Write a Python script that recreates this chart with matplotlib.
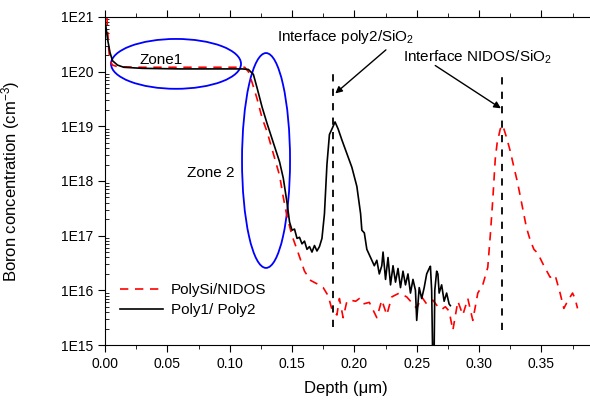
import numpy as np
import matplotlib
matplotlib.use("Agg")
import matplotlib.pyplot as plt
from matplotlib.patches import Ellipse
from matplotlib.ticker import MultipleLocator, LogLocator, FuncFormatter, NullFormatter

plt.rcParams['font.family'] = ['Liberation Sans', 'DejaVu Sans']
plt.rcParams['mathtext.default'] = 'regular'

# --- data read from the SIMS profile (depth in um, log10 of B concentration in cm^-3) ---
depth_nidos = [0.0015, 0.003, 0.004, 0.006, 0.010, 0.03, 0.06, 0.09, 0.112, 0.115,
               0.118, 0.122, 0.126, 0.130, 0.135, 0.140, 0.143, 0.146, 0.150, 0.155,
               0.160, 0.165, 0.170, 0.175, 0.179, 0.182, 0.186, 0.188, 0.191, 0.194,
               0.197, 0.201, 0.204, 0.207, 0.212, 0.218, 0.222, 0.226, 0.230, 0.236,
               0.242, 0.247, 0.250, 0.254, 0.258, 0.263, 0.267, 0.270, 0.273, 0.276,
               0.279, 0.283, 0.287, 0.291, 0.295, 0.299, 0.303, 0.307, 0.309, 0.311,
               0.313, 0.3145, 0.317, 0.319, 0.322, 0.325, 0.328, 0.331, 0.335, 0.338,
               0.341, 0.344, 0.347, 0.352, 0.357, 0.361, 0.365, 0.368, 0.371, 0.375,
               0.377, 0.379]
log_conc_nidos = [21.0, 20.4, 20.2, 20.12, 20.09, 20.08, 20.08, 20.08, 20.08, 20.0,
                  19.8, 19.5, 19.15, 18.9, 18.5, 18.1, 17.7, 17.35, 17.0, 16.68,
                  16.35, 16.18, 16.12, 16.05, 15.9, 15.65, 15.55, 15.85, 15.5, 15.8,
                  15.82, 15.8, 15.85, 15.75, 15.78, 15.5, 15.82, 15.55, 15.88, 15.95,
                  15.88, 15.75, 15.67, 15.88, 15.75, 15.82, 15.7, 15.65, 15.7, 15.62,
                  15.27, 15.8, 15.55, 15.85, 15.45, 15.95, 16.1, 16.42, 17.0, 17.65,
                  18.4, 18.69, 18.95, 19.02, 18.8, 18.55, 18.25, 17.96, 17.5, 17.15,
                  16.92, 16.75, 16.68, 16.45, 16.24, 16.28, 15.95, 15.67, 15.8, 15.95,
                  15.85, 15.67]

depth_poly = [0.0, 0.002, 0.004, 0.006, 0.010, 0.015, 0.03, 0.06, 0.09, 0.11,
              0.115, 0.119, 0.122, 0.126, 0.130, 0.135, 0.140, 0.143, 0.146, 0.148,
              0.150, 0.152, 0.154, 0.156, 0.158, 0.160, 0.162, 0.164, 0.166, 0.168,
              0.170, 0.172, 0.174, 0.176, 0.178, 0.180, 0.182, 0.1845, 0.187, 0.190,
              0.194, 0.198, 0.202, 0.205, 0.206, 0.208, 0.210, 0.213, 0.216, 0.218,
              0.220, 0.222, 0.223, 0.225, 0.227, 0.229, 0.231, 0.233, 0.235, 0.237,
              0.239, 0.241, 0.243, 0.245, 0.247, 0.249, 0.250, 0.252, 0.254, 0.256,
              0.258, 0.260, 0.261, 0.262, 0.263, 0.2638, 0.2645, 0.266, 0.267, 0.268,
              0.270, 0.272, 0.274, 0.276, 0.277]
log_conc_poly = [20.95, 20.6, 20.35, 20.2, 20.12, 20.08, 20.06, 20.05, 20.05, 20.05,
                 20.04, 19.95, 19.7, 19.35, 19.05, 18.7, 18.35, 18.05, 17.6, 17.25,
                 17.1, 17.12, 16.95, 16.97, 16.85, 16.9, 16.75, 16.8, 16.7, 16.82,
                 16.72, 16.8, 16.95, 17.4, 18.3, 18.85, 18.95, 19.08, 18.95, 18.75,
                 18.5, 18.25, 17.9, 17.4, 17.1, 17.05, 16.75, 16.6, 16.45, 16.55,
                 16.3, 16.45, 16.7, 16.2, 16.6, 16.1, 16.45, 16.15, 16.4, 16.05,
                 16.35, 16.1, 16.3, 15.95, 16.2, 16.0, 15.45, 16.05, 15.85, 16.05,
                 16.3, 16.4, 16.44, 16.0, 14.5, 14.5, 16.0, 16.35, 16.3, 15.95,
                 16.1, 15.8, 15.95, 15.75, 15.72]

interface_depths = [0.183, 0.3186]
y_tick_exp = [15, 16, 17, 18, 19, 20, 21]

fig = plt.figure(figsize=(5.9, 4.03), dpi=100)
ax = fig.add_axes([0.178, 0.1439, 0.822, 0.814])

ax.plot(depth_nidos, 10 ** np.array(log_conc_nidos), color='red', linestyle=(0, (5, 4)),
        linewidth=1.2, label='PolySi/NIDOS')
ax.plot(depth_poly, 10 ** np.array(log_conc_poly), color='black', linewidth=1.2,
        label='Poly1/ Poly2')

# interface markers
for d, top, bot in zip(interface_depths, [1.07e20, 1.07e20], [2.1e15, 1.9e15]):
    ax.plot([d, d], [bot, top], color='black', linestyle=(0, (4, 4)), linewidth=1.3)

ax.annotate('', xy=(0.183, 3.7e19), xytext=(0.227, 2.7e20),
            arrowprops=dict(arrowstyle='-|>', color='black', lw=1.0, mutation_scale=10))
ax.annotate('', xy=(0.3194, 2.0e19), xytext=(0.263, 1.38e20),
            arrowprops=dict(arrowstyle='-|>', color='black', lw=1.0, mutation_scale=10))
ax.text(0.138, 4.3e20, 'Interface poly2/SiO$_2$', fontsize=11, ha='left', va='center')
ax.text(0.239, 1.8e20, 'Interface NIDOS/SiO$_2$', fontsize=11, ha='left', va='center')

# zones
ax.add_patch(Ellipse((0.1464, 0.857), 0.268, 0.152, transform=ax.transAxes,
                     fill=False, edgecolor='blue', linewidth=1.3))
ax.add_patch(Ellipse((0.332, 0.5625), 0.099, 0.655, transform=ax.transAxes,
                     fill=False, edgecolor='blue', linewidth=1.3))
ax.text(0.045, 1.65e20, 'Zone1', fontsize=11, ha='center', va='center')
ax.text(0.085, 1.4e18, 'Zone 2', fontsize=11, ha='center', va='center')

ax.set_yscale('log')
ax.set_xlim(0, 0.389)
ax.set_ylim(1e15, 1e21)
ax.set_yticks([10.0 ** e for e in y_tick_exp])
ax.yaxis.set_major_formatter(FuncFormatter(lambda v, p: '1E%d' % round(np.log10(v))))
ax.yaxis.set_minor_locator(LogLocator(base=10, subs=np.arange(2, 10)))
ax.yaxis.set_minor_formatter(NullFormatter())
ax.xaxis.set_major_locator(MultipleLocator(0.05))
ax.xaxis.set_minor_locator(MultipleLocator(0.025))
ax.xaxis.set_major_formatter(FuncFormatter(lambda v, p: '%.2f' % v))
ax.spines['right'].set_visible(False)

ax.tick_params(axis='both', which='major', labelsize=10, direction='out', length=5)
ax.tick_params(axis='x', which='both', top=True, direction='out')
ax.tick_params(axis='x', which='minor', length=3)
ax.tick_params(axis='y', which='minor', direction='in', length=3)

ax.set_xlabel('Depth (μm)', fontsize=12)
ax.set_ylabel('Boron concentration (cm$^{-3}$)', fontsize=12)
ax.xaxis.set_label_coords((346 - 105) / 485, -0.11)
ax.yaxis.set_label_coords(-0.171, 0.5)

ax.legend(loc='lower left', bbox_to_anchor=(0.0186, 0.067), frameon=False, fontsize=11,
          handlelength=2.8, handletextpad=0.5, labelspacing=0.37, borderaxespad=0.0)

fig.savefig('out.png', dpi=100)
